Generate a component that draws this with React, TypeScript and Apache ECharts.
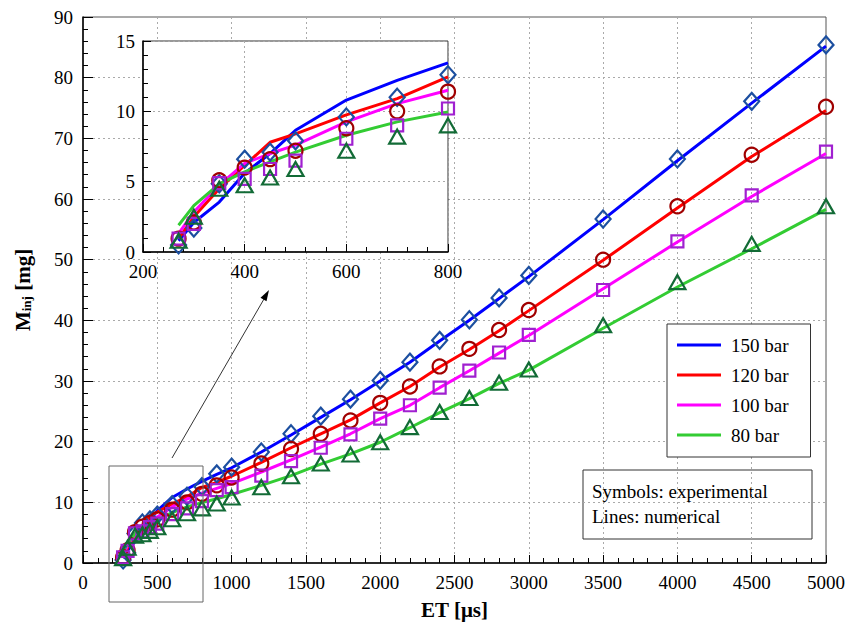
import React, { useEffect, useRef } from "react";
import * as echarts from "echarts";

const etValues = [270, 300, 350, 400, 450, 500, 600, 700, 800, 900, 1000, 1200, 1400, 1600, 1800, 2000, 2200, 2400, 2600, 2800, 3000, 3500, 4000, 4500, 5000];

// numerical results (lines)
const num150 = [0.8, 2.1, 3.55, 5.6, 7.0, 8.65, 10.8, 12.2, 13.45, 14.6, 15.7, 18.3, 21.1, 24.0, 26.9, 30.0, 33.1, 36.6, 40.0, 43.6, 47.2, 56.6, 66.3, 75.8, 85.2];
const num120 = [0.95, 2.5, 4.5, 6.15, 7.8, 8.4, 9.75, 10.9, 12.45, 13.3, 14.3, 16.6, 19.0, 21.3, 23.6, 26.4, 29.1, 32.3, 35.2, 38.3, 41.6, 49.9, 58.5, 67.0, 74.6];
const num100 = [1.3, 2.85, 4.75, 6.3, 7.0, 7.6, 9.25, 10.55, 11.5, 12.3, 13.1, 15.0, 17.0, 19.1, 21.3, 23.8, 26.0, 28.9, 31.7, 34.6, 37.5, 45.2, 52.9, 60.4, 67.5];
const num80 = [1.9, 3.3, 4.85, 5.7, 6.4, 7.1, 8.3, 9.25, 9.95, 10.6, 11.3, 12.8, 14.4, 16.3, 18.0, 19.9, 22.3, 24.8, 27.1, 29.6, 31.8, 38.7, 45.5, 51.8, 58.3];

// experimental results (symbols)
const exp150 = [0.5, 1.7, 4.85, 6.6, 7.1, 7.9, 9.6, 11.0, 12.6, 14.7, 15.8, 18.3, 21.3, 24.2, 27.0, 30.1, 33.1, 36.7, 40.1, 43.7, 47.4, 56.7, 66.6, 76.1, 85.4];
const exp120 = [0.95, 2.1, 5.1, 6.0, 6.6, 7.2, 8.8, 10.0, 11.4, 12.8, 14.1, 16.4, 18.8, 21.3, 23.5, 26.4, 29.1, 32.4, 35.3, 38.4, 41.7, 50.0, 58.8, 67.3, 75.2];
const exp100 = [0.95, 2.0, 4.9, 5.2, 5.9, 6.5, 8.05, 9.0, 10.2, 12.0, 12.5, 14.4, 16.8, 19.0, 21.2, 23.8, 26.0, 28.9, 31.7, 34.7, 37.6, 45.0, 53.0, 60.6, 67.8];
const exp80 = [0.8, 2.5, 4.5, 4.75, 5.3, 5.9, 7.2, 8.2, 9.0, 9.8, 10.8, 12.5, 14.3, 16.4, 17.9, 19.9, 22.4, 24.9, 27.2, 29.7, 31.9, 39.2, 46.3, 52.6, 58.8];

const seriesNames = ["150 bar", "120 bar", "100 bar", "80 bar"];
const lineColors = ["#0000ff", "#ff0000", "#ff00ff", "#33cc33"];
const symbolColors = ["#1c4fa0", "#a00000", "#a020d0", "#126b36"];
const symbols = ["diamond", "circle", "rect", "triangle"];
const symbolSizes = [[15, 17], 14, 12, [16, 14]];

const FONT = "Liberation Serif, Times New Roman, serif";

function pairs(xs: number[], ys: number[], maxX?: number) {
  const out: number[][] = [];
  for (let i = 0; i < xs.length; i++) {
    if (maxX === undefined || xs[i] <= maxX) out.push([xs[i], ys[i]]);
  }
  return out;
}

export default function App() {
  const ref = useRef<HTMLDivElement>(null);
  useEffect(() => {
    if (!ref.current) return;
    const chart = echarts.init(ref.current, null, { renderer: "svg" });
    const nums = [num150, num120, num100, num80];
    const exps = [exp150, exp120, exp100, exp80];

    const series: any[] = [];
    nums.forEach((d, i) => {
      series.push({
        name: seriesNames[i], type: "line", xAxisIndex: 0, yAxisIndex: 0,
        data: pairs(etValues, d), showSymbol: false, symbol: "none",
        lineStyle: { color: lineColors[i], width: 3 }, itemStyle: { color: lineColors[i] }, z: 3,
      });
    });
    exps.forEach((d, i) => {
      series.push({
        name: seriesNames[i] + " exp", type: "scatter", xAxisIndex: 0, yAxisIndex: 0,
        data: pairs(etValues, d), symbol: symbols[i], symbolSize: symbolSizes[i],
        itemStyle: { color: "rgba(255,255,255,0)", borderColor: symbolColors[i], borderWidth: 2.2, opacity: 1 }, z: 4,
      });
    });
    nums.forEach((d, i) => {
      series.push({
        name: seriesNames[i], type: "line", xAxisIndex: 1, yAxisIndex: 1,
        data: pairs(etValues, d, 800), showSymbol: false, symbol: "none",
        lineStyle: { color: lineColors[i], width: 3 }, itemStyle: { color: lineColors[i] }, z: 13,
      });
    });
    exps.forEach((d, i) => {
      series.push({
        name: seriesNames[i] + " exp inset", type: "scatter", xAxisIndex: 1, yAxisIndex: 1,
        data: pairs(etValues, d, 800), symbol: symbols[i], symbolSize: symbolSizes[i],
        itemStyle: { color: "rgba(255,255,255,0)", borderColor: symbolColors[i], borderWidth: 2.2, opacity: 1 }, z: 14,
      });
    });

    const labelStyle = { fontFamily: FONT, fontSize: 19, color: "#000", formatter: (v: number) => String(v) };
    const splitStyle = { show: true, lineStyle: { color: "#aaaaaa", type: [2, 3] as any, width: 1 } };

    const option: any = {
      animation: false,
      backgroundColor: "#fff",
      textStyle: { fontFamily: FONT },
      grid: [
        { left: 81, top: 17, right: 25, bottom: 70, show: true, borderColor: "#555", borderWidth: 1, backgroundColor: "transparent" },
        { left: 143, top: 41, width: 305, height: 211, show: true, borderColor: "#333", borderWidth: 1, backgroundColor: "#fff", z: 10 },
      ],
      xAxis: [
        {
          type: "value", gridIndex: 0, min: 0, max: 5000, interval: 500,
          name: "ET [μs]", nameLocation: "middle", nameGap: 36,
          nameTextStyle: { fontFamily: FONT, fontSize: 21, fontWeight: "bold", color: "#000" },
          axisLine: { show: true, lineStyle: { color: "#000", width: 1.5 } },
          axisTick: { show: true, inside: true, length: 8, lineStyle: { color: "#000" } },
          minorTick: { show: true, splitNumber: 5, length: 5, lineStyle: { color: "#000" } },
          axisLabel: { ...labelStyle, margin: 10 },
          splitLine: splitStyle,
        },
        {
          type: "value", gridIndex: 1, min: 200, max: 800, interval: 200, z: 11,
          axisLine: { show: true, onZero: false, lineStyle: { color: "#000", width: 1.5 } },
          axisTick: { show: true, inside: true, length: 8, lineStyle: { color: "#000" } },
          minorTick: { show: true, splitNumber: 5, length: 5, lineStyle: { color: "#000" } },
          axisLabel: { ...labelStyle, margin: 10 },
          splitLine: splitStyle,
        },
      ],
      yAxis: [
        {
          type: "value", gridIndex: 0, min: 0, max: 90, interval: 10,
          name: "{a|M}{b|inj}{a| [mg]}", nameLocation: "middle", nameGap: 50, nameRotate: 90,
          nameTextStyle: {
            rich: {
              a: { fontFamily: FONT, fontSize: 21, fontWeight: "bold", color: "#000", lineHeight: 26, verticalAlign: "bottom" },
              b: { fontFamily: FONT, fontSize: 13, fontWeight: "bold", color: "#000", lineHeight: 26, verticalAlign: "bottom", padding: [12, 0, 0, 0] },
            },
          },
          axisLine: { show: true, lineStyle: { color: "#000", width: 1.5 } },
          axisTick: { show: true, inside: true, length: 10, lineStyle: { color: "#000" } },
          minorTick: { show: true, splitNumber: 5, length: 5, lineStyle: { color: "#000" } },
          axisLabel: { ...labelStyle, margin: 10 },
          splitLine: splitStyle,
        },
        {
          type: "value", gridIndex: 1, min: 0, max: 15, interval: 5, z: 11,
          axisLine: { show: true, onZero: false, lineStyle: { color: "#000", width: 1.5 } },
          axisTick: { show: true, inside: true, length: 8, lineStyle: { color: "#000" } },
          minorTick: { show: true, splitNumber: 5, length: 5, lineStyle: { color: "#000" } },
          axisLabel: { ...labelStyle, margin: 8 },
          splitLine: splitStyle,
        },
      ],
      legend: {
        data: seriesNames, orient: "vertical", left: 667, top: 324,
        icon: "rect", itemWidth: 44, itemHeight: 3, itemGap: 10,
        padding: [11, 22, 12, 10], borderColor: "#333", borderWidth: 1, backgroundColor: "#fff",
        selectedMode: false,
        textStyle: { fontFamily: FONT, fontSize: 19, color: "#000", lineHeight: 20, padding: [0, 0, 0, 5] },
        z: 20,
      },
      graphic: [
        {
          type: "group", z: 20,
          children: [
            { type: "rect", shape: { x: 583, y: 470, width: 229, height: 69 }, style: { fill: "#fff", stroke: "#333", lineWidth: 1 } },
            { type: "text", x: 592, y: 479, style: { text: "Symbols: experimental\nLines: numerical", fontFamily: FONT, fontSize: 19, lineHeight: 25, fill: "#000" } },
          ],
        },
        { type: "rect", z: 20, shape: { x: 109, y: 466, width: 94, height: 136 }, style: { fill: "none", stroke: "#666", lineWidth: 1 } },
        { type: "line", z: 20, shape: { x1: 172, y1: 458, x2: 264, y2: 299 }, style: { stroke: "#333", lineWidth: 1 } },
        { type: "polygon", z: 20, shape: { points: [[269, 290], [266.5, 301.2], [260.5, 297.7]] }, style: { fill: "#000" } },
      ],
      series,
    };
    chart.setOption(option);
    return () => chart.dispose();
  }, []);
  return <div ref={ref} style={{ width: 851, height: 633, position: "absolute", left: 0, top: 0 }} />;
}
